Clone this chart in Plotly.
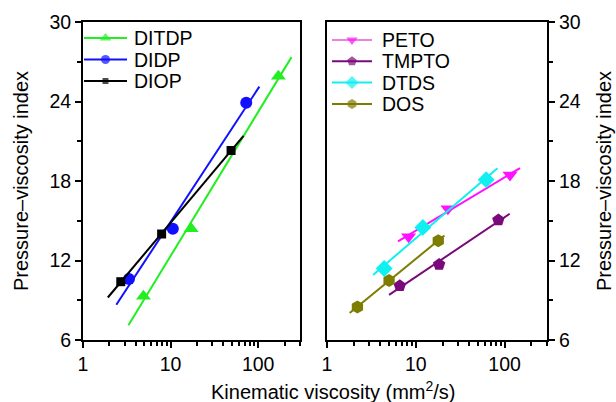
import numpy as np
import plotly.graph_objects as go

W, H = 616, 402

def px(x):
    return x / W

def py(y):
    return 1 - y / H

# ---------------- data ----------------
# left panel
ditdp_x = [4.9, 17.2, 170]
ditdp_y = [9.3, 14.4, 25.9]
didp_x = [3.35, 10.6, 73]
didp_y = [10.6, 14.4, 23.9]
diop_x = [2.7, 7.9, 49]
diop_y = [10.4, 14.0, 20.3]
# right panel
peto_x = [8.3, 23, 115]
peto_y = [13.8, 15.9, 18.45]
tmpto_x = [6.6, 18.3, 85]
tmpto_y = [10.1, 11.7, 15.05]
dtds_x = [4.4, 12, 62]
dtds_y = [11.4, 14.5, 18.1]
dos_x = [2.2, 5.0, 17.9]
dos_y = [8.5, 10.5, 13.5]
# x extents of the fitted lines
ditdp_fit = [3.3, 240]
didp_fit = [2.4, 103]
diop_fit = [1.92, 68]
peto_fit = [6.3, 149]
tmpto_fit = [5.0, 114]
dtds_fit = [3.3, 83]
dos_fit = [1.8, 21]

y_ticks = [6, 12, 18, 24, 30]
y_minor = [9, 15, 21, 27]
x_ticks = [1, 10, 100]
x_tick_labels = ["1", "10", "100"]
x_minor = [2, 3, 4, 5, 6, 7, 8, 9, 20, 30, 40, 50, 60, 70, 80, 90, 200, 300]

series = [
    # name, x, y, fit-range, color, legend-line color, symbol, size, panel
    ("DITDP", ditdp_x, ditdp_y, ditdp_fit, "#22ee22", "#22ee22", "triangle-up", 13, 1),
    ("DIDP", didp_x, didp_y, didp_fit, "#1010ff", "#1010ff", "circle", 12, 1),
    ("DIOP", diop_x, diop_y, diop_fit, "#000000", "#000000", "square", 9, 1),
    ("PETO", peto_x, peto_y, peto_fit, "#ff10ff", "#ee80e0", "triangle-down", 13, 2),
    ("TMPTO", tmpto_x, tmpto_y, tmpto_fit, "#7a0a7a", "#7a0a7a", "pentagon", 13, 2),
    ("DTDS", dtds_x, dtds_y, dtds_fit, "#10f0f0", "#10f0f0", "diamond", 13, 2),
    ("DOS", dos_x, dos_y, dos_fit, "#7d7d00", "#7d7d00", "hexagon", 13, 2),
]

FAM = "Liberation Sans, Arial, sans-serif"
tickfont = dict(family=FAM, size=19.5, color="#000")
titlefont = dict(family=FAM, size=20, color="#000")
legfont = dict(family=FAM, size=19.5, color="#000")

# legend layout (window pixels): line start/end, text x, first row y, row step
leg_layout = {1: (84, 127, 132, 38, 21.5), 2: (332, 372, 380, 40, 21.3)}

fig = go.Figure()
annotations = []
row = {1: 0, 2: 0}
for name, xs, ys, fr, col, lcol, sym, sz, ax in series:
    xa = "x" if ax == 1 else "x2"
    ya = "y" if ax == 1 else "y2"
    lx = np.log10(np.array(xs, dtype=float))
    k, b = np.polyfit(lx, np.array(ys, dtype=float), 1)
    fx = np.array(fr, dtype=float)
    fy = k * np.log10(fx) + b
    fig.add_trace(go.Scatter(x=fx, y=fy, mode="lines", line=dict(color=col, width=2),
                             xaxis=xa, yaxis=ya, showlegend=False, hoverinfo="skip"))
    fig.add_trace(go.Scatter(x=xs, y=ys, mode="markers", name=name,
                             marker=dict(symbol=sym, size=sz, color=col, line=dict(width=0)),
                             xaxis=xa, yaxis=ya, showlegend=False))
    # legend entry drawn on an invisible overlay axis measured in window pixels
    x0, x1, tx, y0, dy = leg_layout[ax]
    yy = y0 + dy * row[ax]
    row[ax] += 1
    fig.add_trace(go.Scatter(x=[x0, (x0 + x1) / 2, x1], y=[yy, yy, yy], mode="lines+markers",
                             line=dict(color=lcol, width=2),
                             marker=dict(symbol=sym, size=[0, sz - 3, 0], color=col,
                                         line=dict(width=0)),
                             xaxis="x3", yaxis="y3", showlegend=False, hoverinfo="skip"))
    annotations.append(dict(text=name, x=tx, y=yy, xref="x3", yref="y3", showarrow=False,
                            font=legfont, xanchor="left", yanchor="middle"))

xl = [px(83), px(300)]
xr = [px(327), px(547)]
yd = [py(340), py(22)]

xcommon = dict(type="log", range=[0, np.log10(300)], tickmode="array", tickvals=x_ticks,
               ticktext=x_tick_labels, ticks="outside", ticklen=6, tickwidth=2,
               tickcolor="#000", showline=True, linewidth=2, linecolor="#000", mirror=True,
               showgrid=False, zeroline=False, tickfont=tickfont, automargin=False,
               minor=dict(tickmode="array", tickvals=x_minor, ticks="outside", ticklen=4,
                          tickwidth=1.5, tickcolor="#000", showgrid=False))
ycommon = dict(range=[6, 30], tickmode="array", tickvals=y_ticks, ticks="outside",
               ticklen=6, tickwidth=2, tickcolor="#000", showline=True, linewidth=2,
               linecolor="#000", mirror=True, showgrid=False, zeroline=False,
               tickfont=tickfont, automargin=False,
               minor=dict(tickmode="array", tickvals=y_minor, ticks="outside", ticklen=4,
                          tickwidth=1.5, tickcolor="#000", showgrid=False))

annotations += [
    dict(text="Kinematic viscosity (mm<sup>2</sup>/s)", x=px(333), y=py(390),
         xref="paper", yref="paper", showarrow=False, font=titlefont,
         xanchor="center", yanchor="middle"),
    dict(text="Pressure\u2013viscosity index", x=px(21), y=py(181), textangle=-90,
         xref="paper", yref="paper", showarrow=False, font=titlefont,
         xanchor="center", yanchor="middle"),
    dict(text="Pressure\u2013viscosity index", x=px(604), y=py(181), textangle=-90,
         xref="paper", yref="paper", showarrow=False, font=titlefont,
         xanchor="center", yanchor="middle"),
]

fig.update_layout(
    width=W, height=H,
    margin=dict(l=0, r=0, t=0, b=0),
    paper_bgcolor="white", plot_bgcolor="rgba(0,0,0,0)",
    font=tickfont,
    showlegend=False,
    xaxis=dict(domain=xl, anchor="y", **xcommon),
    yaxis=dict(domain=yd, anchor="x", side="left", **ycommon),
    xaxis2=dict(domain=xr, anchor="y2", **xcommon),
    yaxis2=dict(domain=yd, anchor="x2", side="right", **ycommon),
    xaxis3=dict(domain=[0, 1], anchor="y3", range=[0, W], visible=False, fixedrange=True),
    yaxis3=dict(domain=[0, 1], anchor="x3", range=[H, 0], visible=False, fixedrange=True),
    annotations=annotations,
)

fig.write_html("out.html",
               config={"displayModeBar": False},
               post_script="document.body.style.margin='0px';"
                           "document.body.style.overflow='hidden';")
